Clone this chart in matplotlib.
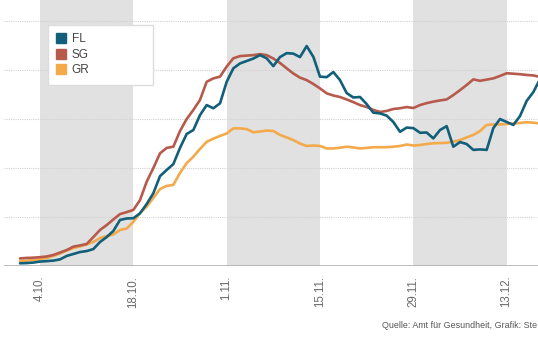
import matplotlib.pyplot as plt
from matplotlib.lines import Line2D
import numpy as np

# days relative to 4.10. (1.10. = -3 ... 18.12. = 75)
days = np.arange(-3, 76)

fl = [11, 12, 14, 18, 20, 22, 27, 41, 49, 57, 61, 69, 98, 118, 143, 188, 194, 195,
      215, 253, 297, 367, 392, 416, 482, 539, 555, 616, 657, 644, 664, 752, 807, 827,
      837, 847, 861, 848, 816, 853, 869, 867, 853, 898, 854, 773, 771, 792, 759, 706,
      688, 690, 661, 626, 623, 614, 588, 548, 565, 563, 544, 545, 521, 555, 571, 487,
      506, 498, 474, 476, 474, 563, 600, 588, 576, 612, 674, 710, 763]
sg = [31, 33, 34, 36, 39, 45, 55, 65, 79, 84, 90, 118, 147, 167, 190, 212, 220, 229,
      269, 344, 400, 460, 482, 487, 551, 600, 637, 678, 752, 766, 773, 814, 848, 857,
      859, 861, 865, 861, 847, 829, 807, 786, 769, 759, 743, 725, 705, 696, 690, 680,
      669, 657, 649, 637, 629, 633, 641, 644, 649, 645, 657, 665, 671, 676, 680, 698,
      718, 739, 762, 756, 761, 766, 776, 787, 785, 783, 780, 778, 772]
gr = [20, 22, 24, 27, 33, 41, 51, 63, 73, 80, 88, 98, 114, 122, 129, 147, 153, 180,
      216, 242, 278, 314, 327, 331, 380, 420, 446, 478, 507, 520, 531, 541, 562, 562,
      559, 546, 549, 553, 551, 535, 525, 514, 500, 490, 492, 490, 480, 480, 483, 487,
      484, 480, 482, 485, 485, 485, 487, 490, 496, 492, 494, 498, 501, 502, 503, 508,
      514, 525, 535, 551, 576, 578, 578, 580, 582, 584, 587, 585, 582]

tick_days = [0, 14, 28, 42, 56, 70]
tick_labels = ['4.10.', '18.10.', '1.11.', '15.11.', '29.11.', '13.12.']
band_starts = [0, 28, 56]
gridlines = [200, 400, 600, 800, 1000]

names = ['FL', 'SG', 'GR']
colors = ['#125f7a', '#b65a4c', '#f4aa4a']

plt.rcParams['font.family'] = ['Liberation Sans', 'DejaVu Sans']

fig = plt.figure(figsize=(5.38, 3.37), dpi=100)
ax = fig.add_axes([4 / 538, 71 / 337, 534 / 538, 266 / 337])

# grey two-week bands
for b in band_starts:
    ax.axvspan(b, b + 14, color='#e1e1e1', lw=0, zorder=0)

for g in gridlines:
    ax.axhline(g, color='#d2d2d2', lw=0.8, ls=(0, (1, 1)), zorder=1)
ax.axhline(0, color='#b0b0b0', lw=1.2, zorder=1)

# draw GR first, then SG, FL on top
for vals, c in zip([gr, sg, fl], [colors[2], colors[1], colors[0]]):
    ax.plot(days, vals, color=c, lw=1.9, solid_joinstyle='round',
            solid_capstyle='round', zorder=3)

ax.set_xlim(-5.4, 74.7)
ax.set_ylim(0, 1086)
ax.set_xticks(tick_days)
ax.set_xticklabels(tick_labels, rotation=90, fontsize=8.3, color='#6a6a6a')
ax.tick_params(axis='x', length=0, pad=7)
ax.set_yticks([])
for s in ax.spines.values():
    s.set_visible(False)

handles = [Line2D([], [], marker='s', ls='none', color=c, markersize=6.5) for c in colors]
leg = ax.legend(handles, names, loc='upper left',
                bbox_to_anchor=(48 / 538, 1 - 78 / 337, 105 / 538, 53 / 337),
                bbox_transform=fig.transFigure, mode='expand', borderaxespad=0,
                fontsize=8.5, handlelength=0.8, handletextpad=0.5, labelspacing=0.3,
                borderpad=0.7, frameon=True, fancybox=False, framealpha=1,
                facecolor='white', labelcolor='#444444')
leg.get_frame().set_edgecolor('#dcdcdc')
leg.get_frame().set_linewidth(1.0)
leg.set_zorder(5)

fig.text(537 / 538, 1 - 326 / 337, 'Quelle: Amt für Gesundheit, Grafik: Ste',
         fontsize=6.4, color='#555555', va='center', ha='right')

fig.savefig('out.png', dpi=100)
